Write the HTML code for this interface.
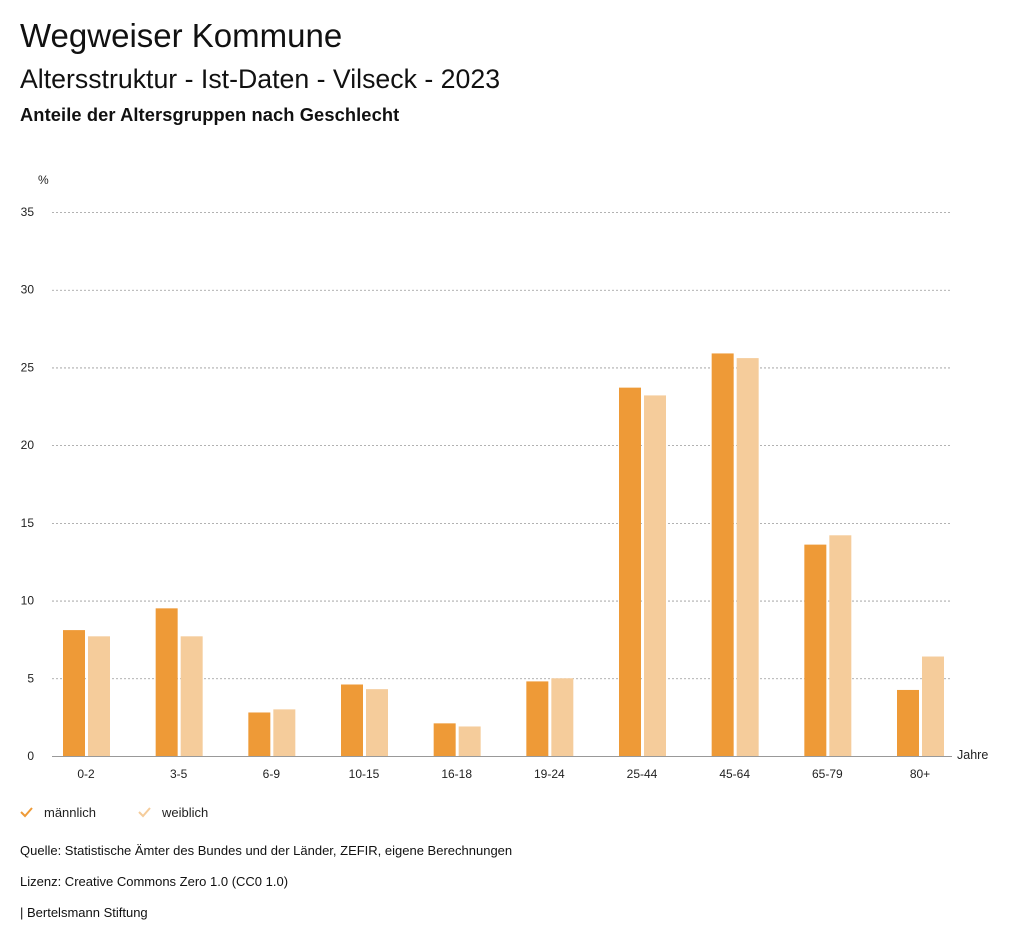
<!DOCTYPE html>
<html><head><meta charset="utf-8">
<style>
body{margin:0;background:#fff;width:1024px;height:946px;overflow:hidden;font-family:"Liberation Sans",sans-serif;color:#111}
.t{position:absolute;left:20px;white-space:nowrap}
</style></head><body>
<div class="t" style="top:17px;font-size:33px">Wegweiser Kommune</div>
<div class="t" style="top:64px;font-size:26.7px">Altersstruktur - Ist-Daten - Vilseck - 2023</div>
<div class="t" style="top:104px;font-size:18.3px;font-weight:bold;letter-spacing:0.1px">Anteile der Altersgruppen nach Geschlecht</div>
<svg id="c" width="1024" height="946" style="position:absolute;left:0;top:0"></svg>
<div class="t" style="top:843px;font-size:13px">Quelle: Statistische Ämter des Bundes und der Länder, ZEFIR, eigene Berechnungen</div>
<div class="t" style="top:874px;font-size:13px">Lizenz: Creative Commons Zero 1.0 (CC0 1.0)</div>
<div class="t" style="top:905px;font-size:13px">| Bertelsmann Stiftung</div>
<script>
const categories=["0-2","3-5","6-9","10-15","16-18","19-24","25-44","45-64","65-79","80+"];
const male=[8.1,9.5,2.8,4.6,2.1,4.8,23.7,25.9,13.6,4.25];
const female=[7.7,7.7,3.0,4.3,1.9,5.0,23.2,25.6,14.2,6.4];
const yTicks=[0,5,10,15,20,25,30,35];
const NS="http://www.w3.org/2000/svg";
const svg=document.getElementById('c');
const y0=756,yTop=212,yMax=35;
const y=v=>y0-(v/yMax)*(y0-yTop);
const x=i=>86+i*(920-86)/(categories.length-1);
function mk(t,a,txt){const e=document.createElementNS(NS,t);for(const k in a)e.setAttribute(k,a[k]);if(txt!==undefined)e.textContent=txt;svg.appendChild(e);return e;}
yTicks.forEach(v=>{
  const l=mk('line',{x1:52,x2:952,y1:y(v)+0.5,y2:y(v)+0.5,stroke:'#999','stroke-dasharray':v===0?'':'2,2','stroke-width':v===0?1:0.8});
  
  
  const t=mk('text',{x:34,y:y(v)+4,'text-anchor':'end','font-size':12,fill:'#222'},v);
  
  
});
const u=mk('text',{x:38,y:184,'font-size':12,fill:'#222'},'%');


const j=mk('text',{x:957,y:759,'font-size':12.5,fill:'#222'},'Jahre');


categories.forEach((c,i)=>{
  const cx=x(i);
  const bm=mk('rect',{x:cx-23,y:y(male[i]),width:22,height:y0-y(male[i]),fill:'#ee9a37'});
  
  
  const bf=mk('rect',{x:cx+2,y:y(female[i]),width:22,height:y0-y(female[i]),fill:'#f5cc9b'});
  
  
  const t=mk('text',{x:cx,y:778,'text-anchor':'middle','font-size':12,fill:'#222'},c);
  
  
});
[["männlich","#ee9a37",20],["weiblich","#f5cc9b",138]].forEach(([n,col,lx])=>{
  const g=mk('g',{});
  
  
  const p=document.createElementNS(NS,'path');
  p.setAttribute('d',`M${lx+1} ${812} L${lx+5} ${816} L${lx+12} ${808}`);
  p.setAttribute('stroke',col);p.setAttribute('stroke-width','2');p.setAttribute('fill','none');
  g.appendChild(p);
  const t=document.createElementNS(NS,'text');
  t.setAttribute('x',lx+24);t.setAttribute('y',817);t.setAttribute('font-size',13);t.setAttribute('fill','#222');
  t.textContent=n;g.appendChild(t);
});
</script>
</body></html>
